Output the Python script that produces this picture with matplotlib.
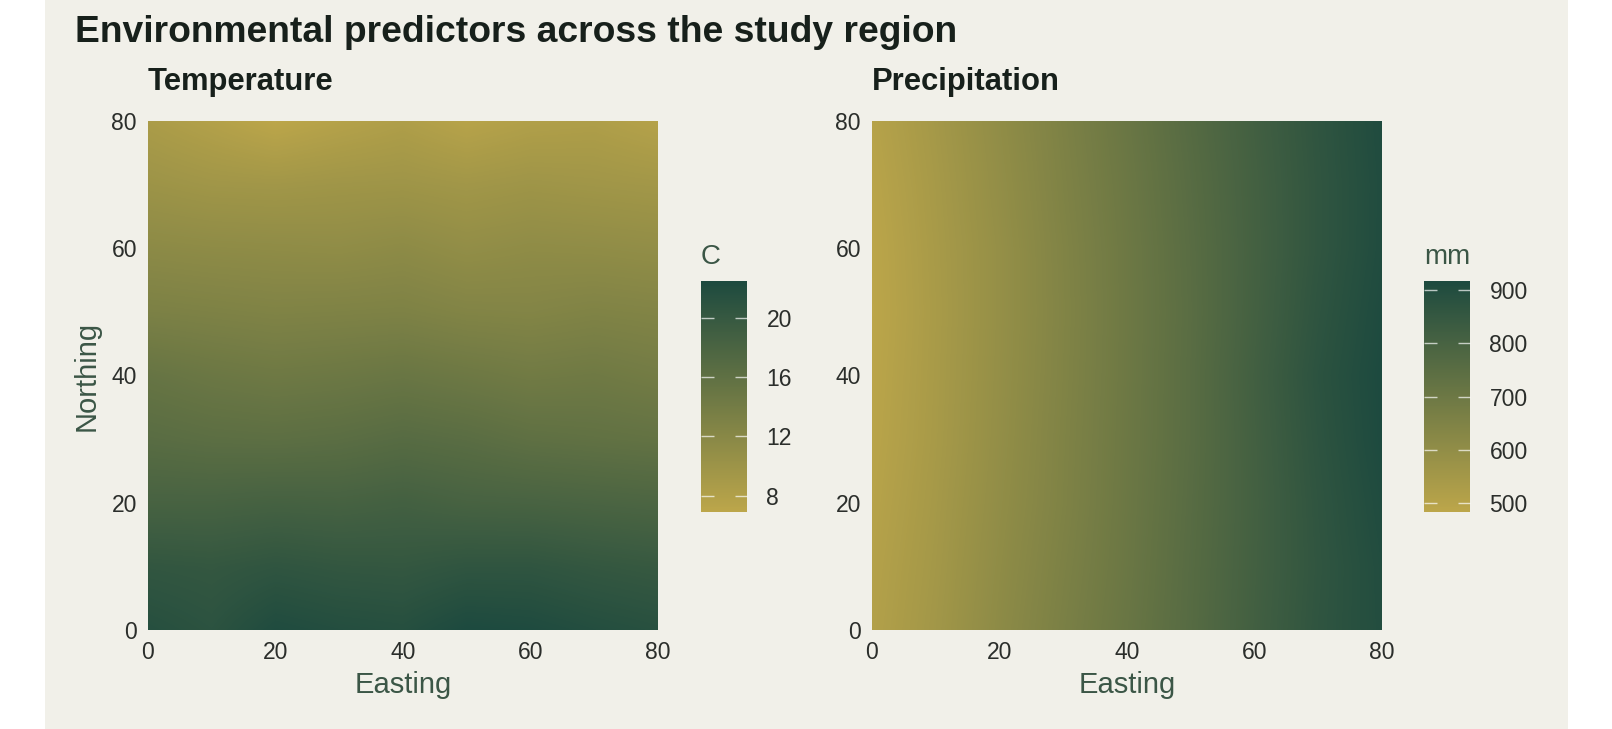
import numpy as np
import matplotlib
matplotlib.use("Agg")
import matplotlib.pyplot as plt
from matplotlib.colors import LinearSegmentedColormap
from matplotlib.patches import Rectangle

plt.rcParams['font.family'] = ['Liberation Sans', 'DejaVu Sans']

# grid nodes (Easting / Northing)
easting = [0, 10, 20, 30, 40, 50, 60, 70, 80]
northing = [0, 10, 20, 30, 40, 50, 60, 70, 80]

# temperature (C), rows = northing 0 -> 80
temperature = [
    [21.6, 21.0, 22.2, 21.8, 21.6, 22.5, 22.3, 21.8, 21.4],
    [20.4, 20.2, 20.6, 20.3, 20.2, 20.6, 20.6, 20.2, 19.9],
    [18.3, 18.3, 18.5, 18.4, 18.7, 18.3, 18.2, 18.0, 17.8],
    [16.6, 16.3, 16.2, 16.4, 16.8, 16.5, 16.0, 15.8, 15.6],
    [15.3, 14.8, 14.5, 14.7, 15.0, 14.6, 14.2, 14.4, 14.0],
    [13.2, 13.0, 12.8, 12.9, 13.0, 12.6, 12.5, 12.8, 12.6],
    [11.6, 11.4, 11.3, 11.2, 11.5, 11.0, 11.3, 11.2, 11.0],
    [10.0, 9.6, 9.5, 9.7, 9.8, 9.5, 9.8, 9.6, 9.4],
    [8.6, 7.8, 6.9, 7.6, 8.2, 7.4, 8.0, 8.2, 7.6],
]

# precipitation (mm), rows = northing 0 -> 80
precipitation = [
    [510, 555, 612, 662, 710, 760, 815, 865, 900],
    [505, 550, 606, 656, 705, 758, 812, 862, 902],
    [498, 545, 600, 650, 702, 755, 810, 865, 908],
    [492, 540, 595, 648, 700, 752, 812, 870, 915],
    [488, 538, 592, 645, 698, 752, 815, 875, 917],
    [484, 536, 590, 643, 697, 750, 810, 868, 912],
    [486, 538, 590, 645, 698, 752, 808, 862, 906],
    [492, 542, 596, 650, 702, 756, 810, 862, 905],
    [500, 548, 602, 655, 708, 762, 815, 865, 908],
]

temp_ticks = [8, 12, 16, 20]
precip_ticks = [500, 600, 700, 800, 900]
axis_ticks = [0, 20, 40, 60, 80]

W, H = 1612, 729
bg = '#F1F0E9'
cmap = LinearSegmentedColormap.from_list('goldgreen', ['#BCA64A', '#1D4A3F'])

fig = plt.figure(figsize=(W / 100, H / 100), dpi=100, facecolor='white')
fig.patches.append(Rectangle((45 / W, 0), (1568 - 45) / W, 1, transform=fig.transFigure,
                             facecolor=bg, edgecolor='none', zorder=-1))

fig.text(75 / W, 1 - 42 / H, 'Environmental predictors across the study region',
         fontsize=26.8, fontweight='bold', color='#17201B', va='baseline', ha='left')


def panel(left, cb_left, data, ticks, title, unit, ylabel):
    ax = fig.add_axes([left / W, 1 - 630 / H, 510 / W, 509 / H])
    ax.set_facecolor(bg)
    d = np.array(data, dtype=float)
    step = easting[1] - easting[0]
    im = ax.imshow(d, origin='lower', cmap=cmap, vmin=d.min(), vmax=d.max(),
                   interpolation='bilinear', aspect='auto',
                   extent=(easting[0] - step / 2, easting[-1] + step / 2,
                           northing[0] - step / 2, northing[-1] + step / 2))
    ax.set_xlim(0, 80)
    ax.set_ylim(0, 80)
    ax.set_xticks(axis_ticks)
    ax.set_yticks(axis_ticks)
    for s in ax.spines.values():
        s.set_visible(False)
    ax.tick_params(length=0, labelsize=16.5, labelcolor='#2B2E2B', pad=8)
    ax.set_xlabel('Easting', fontsize=21, color='#3B5646', labelpad=5)
    if ylabel:
        ax.set_ylabel(ylabel, fontsize=21, color='#3B5646', labelpad=8)
    ax.text(0, 1 + 31 / 509, title, transform=ax.transAxes, fontsize=22.3,
            fontweight='bold', color='#17201B', va='baseline', ha='left')

    cax = fig.add_axes([cb_left / W, 1 - 512 / H, 46 / W, 231 / H])
    cb = fig.colorbar(im, cax=cax, ticks=ticks)
    cb.outline.set_visible(False)
    cax.tick_params(axis='y', direction='in', length=9, width=1, color='#FFFFFFB0',
                    left=True, right=True, labelleft=False, labelright=True,
                    labelsize=16.5, labelcolor='#2B2E2B', pad=14)
    fig.text(cb_left / W, 1 - 264 / H, unit, fontsize=20, color='#3B5646',
             va='baseline', ha='left')
    return ax


panel(148, 701, temperature, temp_ticks, 'Temperature', 'C', 'Northing')
panel(872, 1424, precipitation, precip_ticks, 'Precipitation', 'mm', None)

fig.savefig('out.png', dpi=100, facecolor='white')
